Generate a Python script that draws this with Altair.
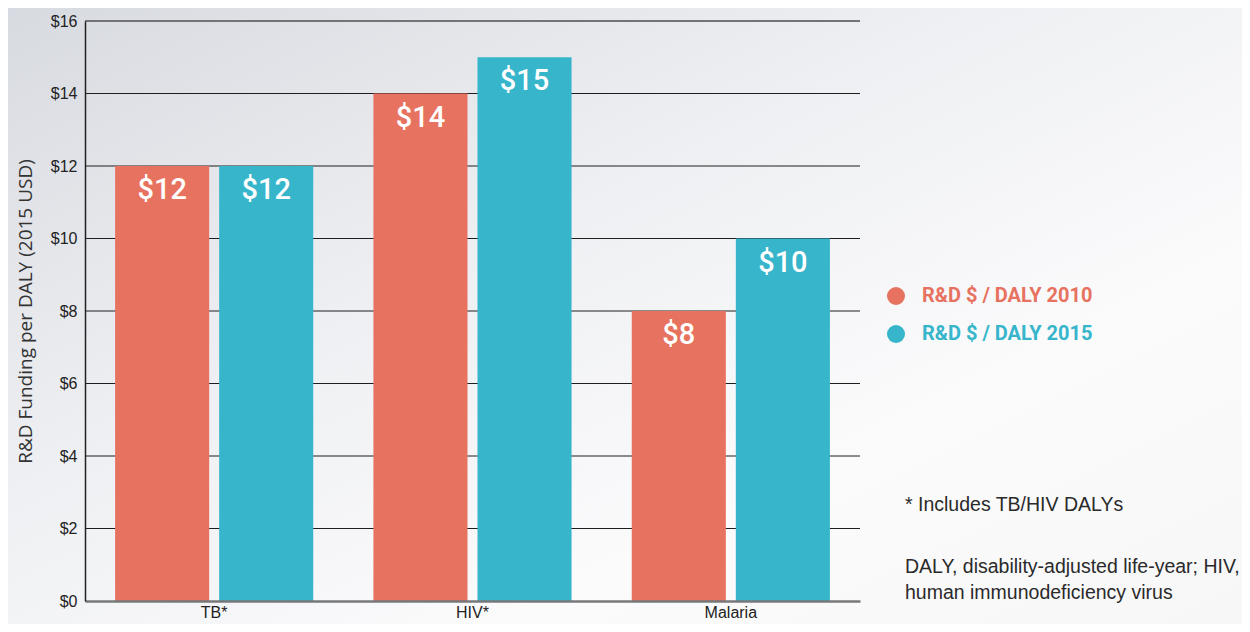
import altair as alt
import pandas as pd

categories = ["TB*", "HIV*", "Malaria"]
series = ["R&D $ / DALY 2010", "R&D $ / DALY 2015"]
values_2010 = [12, 14, 8]
values_2015 = [12, 15, 10]
grid_values = [2, 4, 6, 8, 10, 12, 14]
top_value = [16]
note_lines = ["* Includes TB/HIV DALYs", "DALY, disability-adjusted life-year; HIV,", "human immunodeficiency virus"]

CORAL = "#E77260"
TEAL = "#37B5CB"

rows = []
for c, a, b in zip(categories, values_2010, values_2015):
    rows.append({"cat": c, "series": series[0], "val": a, "label": f"${a}"})
    rows.append({"cat": c, "series": series[1], "val": b, "label": f"${b}"})
df = pd.DataFrame(rows)

W, H = 775, 580

xscale = alt.Scale(domain=categories, paddingInner=0.233, paddingOuter=0.1165)
yscale = alt.Scale(domain=[0, 16], nice=False)
offscale = alt.Scale(domain=series, paddingInner=0.096, paddingOuter=0)
cscale = alt.Scale(domain=series, range=[CORAL, TEAL])

bg = alt.Chart(pd.DataFrame({"a": [0]})).mark_rect(
    color=alt.LinearGradient(
        gradient="linear", x1=0, y1=0, x2=1, y2=1,
        stops=[alt.GradientStop(color="#d7dae0", offset=0),
               alt.GradientStop(color="#eff0f3", offset=0.4),
               alt.GradientStop(color="#fbfbfc", offset=0.7),
               alt.GradientStop(color="#f7f7f8", offset=1)]),
).encode(x=alt.value(-80), x2=alt.value(1165), y=alt.value(-15), y2=alt.value(605))

grid = alt.Chart(pd.DataFrame({"g": grid_values})).mark_rule(color="#1e1e1e", strokeWidth=1).encode(
    y=alt.Y("g:Q", scale=yscale)
)
topline = alt.Chart(pd.DataFrame({"g": top_value})).mark_rule(color="#727477", strokeWidth=2).encode(
    y=alt.Y("g:Q", scale=yscale)
)

base = alt.Chart(df).encode(
    x=alt.X("cat:N", scale=xscale, sort=categories,
            axis=alt.Axis(title=None, labelAngle=0, labelFont="Liberation Sans",
                          labelFontSize=16, labelColor="#222", labelPadding=3, ticks=False,
                          domainColor="#77787a", domainWidth=2.5, grid=False, zindex=2)),
    xOffset=alt.XOffset("series:N", scale=offscale, sort=series),
)

bars = base.mark_bar().encode(
    y=alt.Y("val:Q", scale=yscale,
            axis=alt.Axis(title="R&D Funding per DALY (2015 USD)", values=[0, 2, 4, 6, 8, 10, 12, 14, 16],
                          labelExpr="'$' + datum.value", labelFont="Liberation Sans",
                          labelFontSize=16, labelColor="#222", labelPadding=8, ticks=False,
                          domainColor="#222", domainWidth=1.5, grid=False,
                          titleFont="Open Sans", titleFontSize=19, titleFontWeight="normal",
                          titleColor="#333", titlePadding=15, zindex=2)),
    color=alt.Color("series:N", scale=cscale, sort=series,
                    legend=alt.Legend(title=None, orient="none", legendX=801, legendY=265,
                                      symbolType="circle", symbolSize=324, symbolStrokeWidth=0,
                                      symbolOpacity=1, labelFont="Roboto",
                                      labelFontSize=20, labelFontWeight="bold", labelLimit=400,
                                      labelColor={"expr": "datum.value == 'R&D $ / DALY 2010' ? '#E77260' : '#37B5CB'"},
                                      labelOffset=16, rowPadding=18, zindex=2)),
)

labels = base.mark_text(color="white", font="Roboto", fontSize=29, fontWeight=500,
                        baseline="middle", dy=24).encode(
    y=alt.Y("val:Q", scale=yscale),
    text="label:N",
)

notes = alt.Chart(pd.DataFrame({"t": note_lines, "yy": [484, 546, 572]})).mark_text(
    align="left", baseline="middle", font="Liberation Sans", fontSize=19.5, color="#2a2a2a"
).encode(
    x=alt.value(820), y=alt.Y("yy:Q", scale=None), text="t:N"
)

chart = alt.layer(bg, grid, topline, bars, labels, notes).properties(
    width=W, height=H,
    autosize=alt.AutoSizeParams(type="none"),
    padding={"left": 77, "top": 13, "right": 382, "bottom": 23},
    background="#f4f5f7",
).configure_view(stroke=None)

chart.save("out.html", embed_options={"renderer": "svg", "actions": False})
